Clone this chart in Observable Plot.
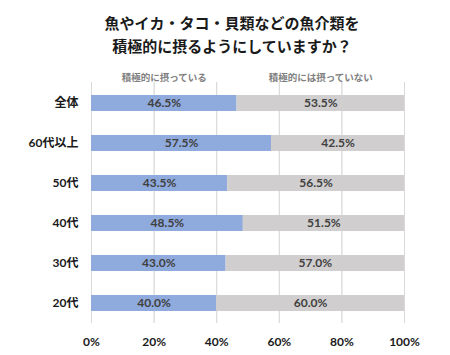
<!DOCTYPE html>
<html><head><meta charset="utf-8">
<script src="https://cdn.jsdelivr.net/npm/d3@7"></script>
<script src="https://cdn.jsdelivr.net/npm/@observablehq/plot@0.6"></script>
<style>
body{margin:0;background:#fff;font-family:Lato,"Noto Sans CJK JP",sans-serif;}
#title{width:450px;text-align:center;font-weight:bold;font-size:15px;line-height:23px;padding-top:11px;color:#1a1a1a;padding-left:14px;box-sizing:border-box;font-family:"Noto Sans CJK JP",sans-serif;}
</style></head>
<body>
<div id="title">魚やイカ・タコ・貝類などの魚介類を<br>積極的に摂るようにしていますか？</div>
<div id="chart"></div>
<script>
const categories = ["全体","60代以上","50代","40代","30代","20代"];
const yesValues = [46.5,57.5,43.5,48.5,43.0,40.0];
const noValues = [53.5,42.5,56.5,51.5,57.0,60.0];
const seriesNames = ["積極的に摂っている","積極的には摂っていない"];
const xTicks = [0,20,40,60,80,100];

const rows = [];
categories.forEach((c,i)=>{
  rows.push({cat:c, series:seriesNames[0], x1:0, x2:yesValues[i], v:yesValues[i]});
  rows.push({cat:c, series:seriesNames[1], x1:yesValues[i], x2:yesValues[i]+noValues[i], v:noValues[i]});
});
const legend = [
  {name:seriesNames[0], x:yesValues[0]/2},
  {name:seriesNames[1], x:yesValues[0]+noValues[0]/2}
];

const chart = Plot.plot({
  width:450, height:298,
  marginLeft:91, marginRight:46, marginTop:25, marginBottom:32,
  style:{fontFamily:'Lato,"Noto Sans CJK JP",sans-serif', background:"#fff"},
  x:{domain:[0,100], ticks:xTicks, tickFormat:d=>d+"%", grid:true, label:null},
  y:{domain:categories, paddingInner:0.6, paddingOuter:0.3, label:null},
  color:{domain:seriesNames, range:["#8faadc","#d0cece"]},
  marks:[
    Plot.gridX(xTicks,{stroke:"#d9d9d9", strokeOpacity:1, strokeWidth:1}),
    Plot.barX(rows,{y:"cat", x1:"x1", x2:"x2", fill:"series"}),
    Plot.text(rows,{y:"cat", x:d=>(d.x1+d.x2)/2, text:d=>d.v.toFixed(1)+"%", fill:"#404040", fontWeight:"bold", fontSize:12}),
    Plot.text(legend,{x:"x", text:"name", frameAnchor:"top", dy:-8, fill:"#808080", fontSize:9.5, fontWeight:"bold", fontFamily:'"Noto Sans CJK JP",sans-serif'}),
    Plot.axisX(xTicks,{tickSize:0, tickPadding:14, tickFormat:d=>d+"%", fontWeight:"bold", fontSize:12, fill:"#1a1a1a", label:null}),
    Plot.axisY({tickSize:0, tickPadding:13, fontWeight:"bold", fontSize:12, fill:"#1a1a1a", label:null})
  ]
});
document.getElementById("chart").appendChild(chart);
</script>
</body></html>
